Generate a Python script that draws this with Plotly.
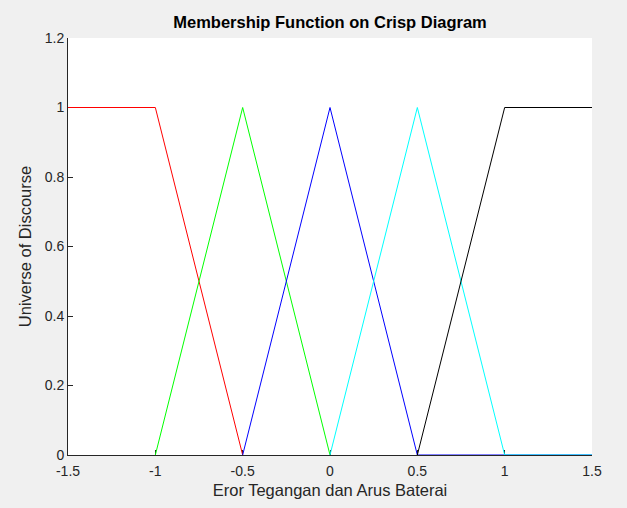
import plotly.graph_objects as go

# Membership functions (x breakpoints, y values)
red_x = [-1.5, -1.0, -0.5]
red_y = [1, 1, 0]
green_x = [-1.0, -0.5, 0.0]
green_y = [0, 1, 0]
blue_x = [-0.5, 0.0, 0.5, 1.5]
blue_y = [0, 1, 0, 0]
cyan_x = [0.0, 0.5, 1.0, 1.5]
cyan_y = [0, 1, 0, 0]
black_x = [0.5, 1.0, 1.5]
black_y = [0, 1, 1]

x_ticks = [-1.5, -1, -0.5, 0, 0.5, 1, 1.5]
x_tick_labels = ["-1.5", "-1", "-0.5", "0", "0.5", "1", "1.5"]
y_ticks = [0, 0.2, 0.4, 0.6, 0.8, 1, 1.2]
y_tick_labels = ["0", "0.2", "0.4", "0.6", "0.8", "1", "1.2"]

series = [
    (red_x, red_y, "#ff0000"),
    (green_x, green_y, "#00ff00"),
    (blue_x, blue_y, "#0000ff"),
    (cyan_x, cyan_y, "#00ffff"),
    (black_x, black_y, "#000000"),
]

fig = go.Figure()
for xs, ys, c in series:
    fig.add_trace(go.Scatter(x=xs, y=ys, mode="lines",
                             line=dict(color=c, width=1), showlegend=False,
                             hoverinfo="skip"))

font_family = "Liberation Sans, Arial, Helvetica, sans-serif"

fig.update_layout(
    width=627, height=508,
    paper_bgcolor="#f0f0f0",
    plot_bgcolor="#ffffff",
    margin=dict(l=68, r=35, t=38, b=51),
    title=dict(text="<b>Membership Function on Crisp Diagram</b>",
               x=330 / 627, xanchor="center",
               y=1 - 22 / 508, yanchor="middle",
               font=dict(family=font_family, size=16.5, color="#000000")),
    font=dict(family=font_family, color="#262626"),
)

fig.update_xaxes(
    range=[-1.5, 1.5], tickmode="array", tickvals=x_ticks, ticktext=x_tick_labels,
    showgrid=False, zeroline=False, showline=True, linecolor="#262626", linewidth=1,
    ticks="inside", ticklen=5, tickcolor="#262626", tickwidth=1,
    tickfont=dict(size=14, color="#262626"), ticklabelstandoff=3,
    title=dict(text="Eror Tegangan dan Arus Baterai", font=dict(size=16.5, color="#262626"),
               standoff=6),
    layer="below traces",
)
fig.update_yaxes(
    range=[0, 1.2], tickmode="array", tickvals=y_ticks, ticktext=y_tick_labels,
    showgrid=False, zeroline=False, showline=True, linecolor="#262626", linewidth=1,
    ticks="inside", ticklen=5, tickcolor="#262626", tickwidth=1,
    tickfont=dict(size=14, color="#262626"),
    title=dict(text="Universe of Discourse", font=dict(size=16.5, color="#262626"),
               standoff=8),
    layer="below traces",
)

fig.write_html("out.html")
